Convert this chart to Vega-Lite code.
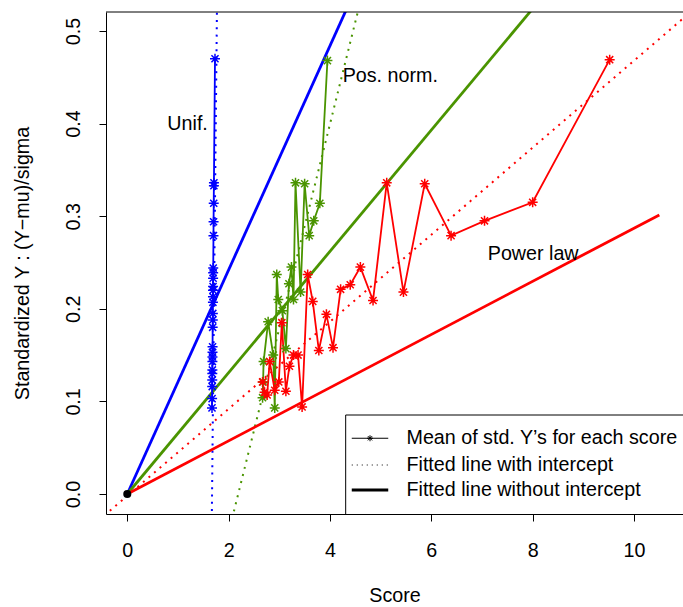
{
  "$schema": "https://vega.github.io/schema/vega-lite/v6.json",
  "width": 577,
  "height": 502,
  "autosize": {"type": "none"},
  "padding": {"left": 106, "top": 12, "right": 0, "bottom": 93},
  "config": {
    "view": {"stroke": null},
    "font": "Liberation Sans",
    "axis": {"labelColor": "black", "titleColor": "black", "tickColor": "black", "domainColor": "black", "domainWidth": 1, "tickWidth": 1, "grid": false, "titleFontWeight": "normal", "tickSize": 7, "labelFontSize": 19.7, "titleFontSize": 19.7, "labelFlush": false, "labelOverlap": false},
    "axisX": {"labelPadding": 19, "titlePadding": 26},
    "axisY": {"labelAngle": -90, "labelAlign": "center", "labelBaseline": "alphabetic", "labelPadding": 20, "titlePadding": 31}
  },
  "datasets": {
    "means": [
      {"series": "Unif.", "x": 1.672, "y": 0.093},
      {"series": "Unif.", "x": 1.674, "y": 0.103},
      {"series": "Unif.", "x": 1.676, "y": 0.116},
      {"series": "Unif.", "x": 1.677, "y": 0.123},
      {"series": "Unif.", "x": 1.678, "y": 0.130},
      {"series": "Unif.", "x": 1.679, "y": 0.134},
      {"series": "Unif.", "x": 1.680, "y": 0.143},
      {"series": "Unif.", "x": 1.681, "y": 0.148},
      {"series": "Unif.", "x": 1.682, "y": 0.153},
      {"series": "Unif.", "x": 1.683, "y": 0.159},
      {"series": "Unif.", "x": 1.685, "y": 0.180},
      {"series": "Unif.", "x": 1.687, "y": 0.188},
      {"series": "Unif.", "x": 1.688, "y": 0.195},
      {"series": "Unif.", "x": 1.690, "y": 0.207},
      {"series": "Unif.", "x": 1.691, "y": 0.213},
      {"series": "Unif.", "x": 1.692, "y": 0.220},
      {"series": "Unif.", "x": 1.693, "y": 0.224},
      {"series": "Unif.", "x": 1.694, "y": 0.233},
      {"series": "Unif.", "x": 1.695, "y": 0.239},
      {"series": "Unif.", "x": 1.696, "y": 0.244},
      {"series": "Unif.", "x": 1.701, "y": 0.279},
      {"series": "Unif.", "x": 1.703, "y": 0.294},
      {"series": "Unif.", "x": 1.706, "y": 0.314},
      {"series": "Unif.", "x": 1.709, "y": 0.333},
      {"series": "Unif.", "x": 1.710, "y": 0.336},
      {"series": "Unif.", "x": 1.731, "y": 0.470},
      {"series": "Pos. norm.", "x": 2.67, "y": 0.104},
      {"series": "Pos. norm.", "x": 2.68, "y": 0.121},
      {"series": "Pos. norm.", "x": 2.69, "y": 0.143},
      {"series": "Pos. norm.", "x": 2.78, "y": 0.186},
      {"series": "Pos. norm.", "x": 2.88, "y": 0.150},
      {"series": "Pos. norm.", "x": 2.91, "y": 0.093},
      {"series": "Pos. norm.", "x": 2.95, "y": 0.237},
      {"series": "Pos. norm.", "x": 2.98, "y": 0.210},
      {"series": "Pos. norm.", "x": 3.06, "y": 0.198},
      {"series": "Pos. norm.", "x": 3.13, "y": 0.157},
      {"series": "Pos. norm.", "x": 3.19, "y": 0.227},
      {"series": "Pos. norm.", "x": 3.24, "y": 0.245},
      {"series": "Pos. norm.", "x": 3.28, "y": 0.210},
      {"series": "Pos. norm.", "x": 3.32, "y": 0.336},
      {"series": "Pos. norm.", "x": 3.42, "y": 0.218},
      {"series": "Pos. norm.", "x": 3.50, "y": 0.335},
      {"series": "Pos. norm.", "x": 3.59, "y": 0.279},
      {"series": "Pos. norm.", "x": 3.68, "y": 0.295},
      {"series": "Pos. norm.", "x": 3.80, "y": 0.314},
      {"series": "Pos. norm.", "x": 3.95, "y": 0.468},
      {"series": "Power law", "x": 2.67, "y": 0.121},
      {"series": "Power law", "x": 2.71, "y": 0.110},
      {"series": "Power law", "x": 2.76, "y": 0.107},
      {"series": "Power law", "x": 2.81, "y": 0.143},
      {"series": "Power law", "x": 2.91, "y": 0.112},
      {"series": "Power law", "x": 2.99, "y": 0.121},
      {"series": "Power law", "x": 3.05, "y": 0.185},
      {"series": "Power law", "x": 3.13, "y": 0.111},
      {"series": "Power law", "x": 3.20, "y": 0.138},
      {"series": "Power law", "x": 3.28, "y": 0.150},
      {"series": "Power law", "x": 3.37, "y": 0.150},
      {"series": "Power law", "x": 3.45, "y": 0.094},
      {"series": "Power law", "x": 3.56, "y": 0.237},
      {"series": "Power law", "x": 3.66, "y": 0.208},
      {"series": "Power law", "x": 3.78, "y": 0.155},
      {"series": "Power law", "x": 3.93, "y": 0.194},
      {"series": "Power law", "x": 4.06, "y": 0.158},
      {"series": "Power law", "x": 4.21, "y": 0.221},
      {"series": "Power law", "x": 4.40, "y": 0.226},
      {"series": "Power law", "x": 4.60, "y": 0.245},
      {"series": "Power law", "x": 4.85, "y": 0.209},
      {"series": "Power law", "x": 5.12, "y": 0.336},
      {"series": "Power law", "x": 5.45, "y": 0.218},
      {"series": "Power law", "x": 5.87, "y": 0.335},
      {"series": "Power law", "x": 6.39, "y": 0.279},
      {"series": "Power law", "x": 7.05, "y": 0.295},
      {"series": "Power law", "x": 8.00, "y": 0.315},
      {"series": "Power law", "x": 9.52, "y": 0.469}
    ],
    "fits": [
      {"series": "Unif.", "kind": "without", "x": 0, "y": 0},
      {"series": "Unif.", "kind": "without", "x": 4.6, "y": 0.5566},
      {"series": "Pos. norm.", "kind": "without", "x": 0, "y": 0},
      {"series": "Pos. norm.", "kind": "without", "x": 8.5, "y": 0.5568},
      {"series": "Power law", "kind": "without", "x": 0, "y": 0},
      {"series": "Power law", "kind": "without", "x": 10.5, "y": 0.3014},
      {"series": "Unif.", "kind": "with", "x": 1.6638, "y": -0.05},
      {"series": "Unif.", "kind": "with", "x": 1.7745, "y": 0.55},
      {"series": "Pos. norm.", "kind": "with", "x": 2.0, "y": -0.0417},
      {"series": "Pos. norm.", "kind": "with", "x": 4.7, "y": 0.5539},
      {"series": "Power law", "kind": "with", "x": -1, "y": -0.049},
      {"series": "Power law", "kind": "with", "x": 12, "y": 0.562}
    ]
  },
  "layer": [
    {
      "data": {"name": "fits"},
      "transform": [{"filter": "datum.kind === 'with'"}],
      "mark": {"type": "line", "clip": true, "strokeWidth": 2, "strokeDash": [2, 5.3], "strokeCap": "butt"},
      "encoding": {
        "x": {"field": "x", "type": "quantitative", "scale": {"domain": [-0.42, 10.967], "nice": false, "zero": false},
          "axis": {"title": "Score", "values": [0, 2, 4, 6, 8, 10]}},
        "y": {"field": "y", "type": "quantitative", "scale": {"domain": [-0.0216, 0.5205], "nice": false, "zero": false},
          "axis": {"title": "Standardized Y : (Y\u2212mu)/sigma", "values": [0, 0.1, 0.2, 0.3, 0.4, 0.5], "format": ".1f"}},
        "color": {"field": "series", "type": "nominal", "scale": {"domain": ["Unif.", "Pos. norm.", "Power law"], "range": ["#0000FF", "#4A9400", "#FF0000"]}, "legend": null},
        "detail": {"field": "series"}
      }
    },
    {
      "data": {"name": "fits"},
      "transform": [{"filter": "datum.kind === 'without'"}],
      "mark": {"type": "line", "clip": true, "strokeWidth": 2.8},
      "encoding": {
        "x": {"field": "x", "type": "quantitative", "scale": {"domain": [-0.42, 10.967], "nice": false, "zero": false},
          "axis": {"title": "Score", "values": [0, 2, 4, 6, 8, 10]}},
        "y": {"field": "y", "type": "quantitative", "scale": {"domain": [-0.0216, 0.5205], "nice": false, "zero": false},
          "axis": {"title": "Standardized Y : (Y\u2212mu)/sigma", "values": [0, 0.1, 0.2, 0.3, 0.4, 0.5], "format": ".1f"}},
        "color": {"field": "series", "type": "nominal", "legend": null},
        "detail": {"field": "series"}
      }
    },
    {
      "data": {"name": "means"},
      "mark": {"type": "line", "clip": true, "strokeWidth": 1.8},
      "encoding": {
        "x": {"field": "x", "type": "quantitative", "scale": {"domain": [-0.42, 10.967], "nice": false, "zero": false},
          "axis": {"title": "Score", "values": [0, 2, 4, 6, 8, 10]}},
        "y": {"field": "y", "type": "quantitative", "scale": {"domain": [-0.0216, 0.5205], "nice": false, "zero": false},
          "axis": {"title": "Standardized Y : (Y\u2212mu)/sigma", "values": [0, 0.1, 0.2, 0.3, 0.4, 0.5], "format": ".1f"}},
        "color": {"field": "series", "type": "nominal", "legend": null},
        "detail": {"field": "series"}
      }
    },
    {
      "data": {"name": "means"},
      "mark": {"type": "point", "clip": true, "filled": false, "opacity": 1, "strokeWidth": 1.5, "size": 100,
        "shape": "M-1,0L1,0M0,-1L0,1M-0.71,-0.71L0.71,0.71M-0.71,0.71L0.71,-0.71"},
      "encoding": {
        "x": {"field": "x", "type": "quantitative", "scale": {"domain": [-0.42, 10.967], "nice": false, "zero": false},
          "axis": {"title": "Score", "values": [0, 2, 4, 6, 8, 10]}},
        "y": {"field": "y", "type": "quantitative", "scale": {"domain": [-0.0216, 0.5205], "nice": false, "zero": false},
          "axis": {"title": "Standardized Y : (Y\u2212mu)/sigma", "values": [0, 0.1, 0.2, 0.3, 0.4, 0.5], "format": ".1f"}},
        "color": {"field": "series", "type": "nominal", "legend": null}
      }
    },
    {
      "data": {"values": [{}]},
      "mark": {"type": "point", "filled": true, "shape": "circle", "size": 65, "color": "black", "opacity": 1},
      "encoding": {"x": {"datum": 0, "axis": {"title": "Score", "values": [0, 2, 4, 6, 8, 10]}}, "y": {"datum": 0, "axis": {"title": "Standardized Y : (Y\u2212mu)/sigma", "values": [0, 0.1, 0.2, 0.3, 0.4, 0.5], "format": ".1f"}}}
    },
    {
      "data": {"values": [{}]},
      "mark": {"type": "text", "text": "Unif.", "fontSize": 19.7, "align": "center", "baseline": "middle", "color": "black"},
      "encoding": {"x": {"datum": 1.19, "axis": {"title": "Score", "values": [0, 2, 4, 6, 8, 10]}}, "y": {"datum": 0.3996, "axis": {"title": "Standardized Y : (Y\u2212mu)/sigma", "values": [0, 0.1, 0.2, 0.3, 0.4, 0.5], "format": ".1f"}}}
    },
    {
      "data": {"values": [{}]},
      "mark": {"type": "text", "text": "Pos. norm.", "fontSize": 19.7, "align": "center", "baseline": "middle", "color": "black"},
      "encoding": {"x": {"datum": 5.19, "axis": {"title": "Score", "values": [0, 2, 4, 6, 8, 10]}}, "y": {"datum": 0.451, "axis": {"title": "Standardized Y : (Y\u2212mu)/sigma", "values": [0, 0.1, 0.2, 0.3, 0.4, 0.5], "format": ".1f"}}}
    },
    {
      "data": {"values": [{}]},
      "mark": {"type": "text", "text": "Power law", "fontSize": 19.7, "align": "center", "baseline": "middle", "color": "black"},
      "encoding": {"x": {"datum": 8.01, "axis": {"title": "Score", "values": [0, 2, 4, 6, 8, 10]}}, "y": {"datum": 0.259, "axis": {"title": "Standardized Y : (Y\u2212mu)/sigma", "values": [0, 0.1, 0.2, 0.3, 0.4, 0.5], "format": ".1f"}}}
    },
    {
      "data": {"values": [{}]},
      "mark": {"type": "rule", "color": "black", "strokeWidth": 1},
      "encoding": {"y": {"datum": 0.5205, "axis": {"title": "Standardized Y : (Y\u2212mu)/sigma", "values": [0, 0.1, 0.2, 0.3, 0.4, 0.5], "format": ".1f"}}}
    },
    {
      "data": {"values": [{}]},
      "mark": {"type": "rect", "clip": true, "fill": "white", "stroke": "black", "strokeWidth": 1},
      "encoding": {"x": {"datum": 4.31, "axis": {"title": "Score", "values": [0, 2, 4, 6, 8, 10]}}, "x2": {"datum": 12}, "y": {"datum": -0.03, "axis": {"title": "Standardized Y : (Y\u2212mu)/sigma", "values": [0, 0.1, 0.2, 0.3, 0.4, 0.5], "format": ".1f"}}, "y2": {"datum": 0.0853}}
    },
    {
      "data": {"values": [{}]},
      "mark": {"type": "rule", "color": "black", "strokeWidth": 1.2},
      "encoding": {"x": {"datum": 4.43, "axis": {"title": "Score", "values": [0, 2, 4, 6, 8, 10]}}, "x2": {"datum": 5.15}, "y": {"datum": 0.0602, "axis": {"title": "Standardized Y : (Y\u2212mu)/sigma", "values": [0, 0.1, 0.2, 0.3, 0.4, 0.5], "format": ".1f"}}}
    },
    {
      "data": {"values": [{}]},
      "mark": {"type": "rule", "color": "black", "strokeWidth": 1, "strokeDash": [1, 4]},
      "encoding": {"x": {"datum": 4.43, "axis": {"title": "Score", "values": [0, 2, 4, 6, 8, 10]}}, "x2": {"datum": 5.15}, "y": {"datum": 0.0313, "axis": {"title": "Standardized Y : (Y\u2212mu)/sigma", "values": [0, 0.1, 0.2, 0.3, 0.4, 0.5], "format": ".1f"}}}
    },
    {
      "data": {"values": [{}]},
      "mark": {"type": "rule", "color": "black", "strokeWidth": 2.8},
      "encoding": {"x": {"datum": 4.43, "axis": {"title": "Score", "values": [0, 2, 4, 6, 8, 10]}}, "x2": {"datum": 5.15}, "y": {"datum": 0.0043, "axis": {"title": "Standardized Y : (Y\u2212mu)/sigma", "values": [0, 0.1, 0.2, 0.3, 0.4, 0.5], "format": ".1f"}}}
    },
    {
      "data": {"values": [{}]},
      "mark": {"type": "point", "filled": false, "opacity": 1, "strokeWidth": 1, "size": 36, "color": "black",
        "shape": "M-1,0L1,0M0,-1L0,1M-0.71,-0.71L0.71,0.71M-0.71,0.71L0.71,-0.71"},
      "encoding": {"x": {"datum": 4.79, "axis": {"title": "Score", "values": [0, 2, 4, 6, 8, 10]}}, "y": {"datum": 0.0602, "axis": {"title": "Standardized Y : (Y\u2212mu)/sigma", "values": [0, 0.1, 0.2, 0.3, 0.4, 0.5], "format": ".1f"}}}
    },
    {
      "data": {"values": [{}]},
      "mark": {"type": "text", "text": "Mean of std. Y\u2019s for each score", "fontSize": 19.7, "align": "left", "baseline": "middle", "color": "black"},
      "encoding": {"x": {"datum": 5.51, "axis": {"title": "Score", "values": [0, 2, 4, 6, 8, 10]}}, "y": {"datum": 0.0602, "axis": {"title": "Standardized Y : (Y\u2212mu)/sigma", "values": [0, 0.1, 0.2, 0.3, 0.4, 0.5], "format": ".1f"}}}
    },
    {
      "data": {"values": [{}]},
      "mark": {"type": "text", "text": "Fitted line with intercept", "fontSize": 19.7, "align": "left", "baseline": "middle", "color": "black"},
      "encoding": {"x": {"datum": 5.51, "axis": {"title": "Score", "values": [0, 2, 4, 6, 8, 10]}}, "y": {"datum": 0.0313, "axis": {"title": "Standardized Y : (Y\u2212mu)/sigma", "values": [0, 0.1, 0.2, 0.3, 0.4, 0.5], "format": ".1f"}}}
    },
    {
      "data": {"values": [{}]},
      "mark": {"type": "text", "text": "Fitted line without intercept", "fontSize": 19.7, "align": "left", "baseline": "middle", "color": "black"},
      "encoding": {"x": {"datum": 5.51, "axis": {"title": "Score", "values": [0, 2, 4, 6, 8, 10]}}, "y": {"datum": 0.0043, "axis": {"title": "Standardized Y : (Y\u2212mu)/sigma", "values": [0, 0.1, 0.2, 0.3, 0.4, 0.5], "format": ".1f"}}}
    }
  ]
}
